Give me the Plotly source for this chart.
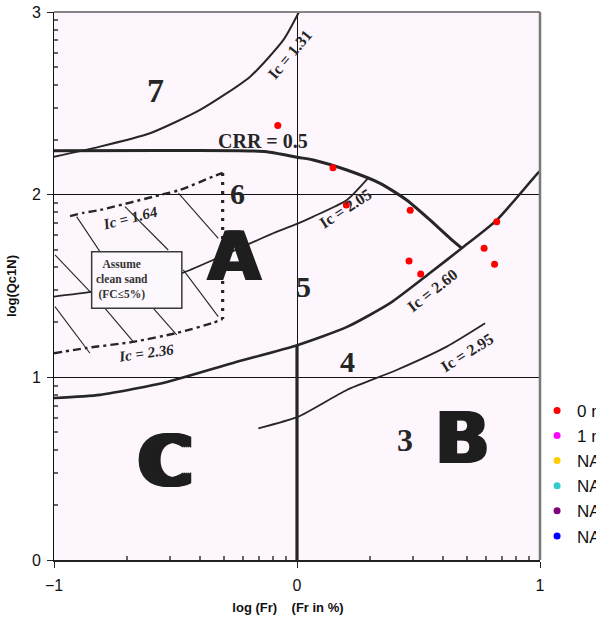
import numpy as np
import plotly.graph_objects as go

# ---------------- data ----------------
series_names = ["0 m", "1 m", "NA", "NA", "NA", "NA"]
series_colors = ["#ff0000", "#ff00ff", "#ffcc00", "#33cccc", "#800080", "#0000ff"]

pts_x = [-0.079, 0.148, 0.203, 0.466, 0.822, 0.770, 0.813, 0.461, 0.509]
pts_y = [2.378, 2.148, 1.944, 1.915, 1.852, 1.707, 1.619, 1.637, 1.566]

x_ticks = [-1, 0, 1]
y_ticks = [0, 1, 2, 3]

# background chart boundaries (Robertson / CRR chart)
ic131_x = [-1, -0.811, -0.605, -0.399, -0.193, -0.056, 0.008]
ic131_y = [2.208, 2.263, 2.336, 2.464, 2.646, 2.847, 3.0]

crr_x = [-1, -0.564, -0.235, -0.125, 0.005, 0.067, 0.205, 0.342, 0.451, 0.547, 0.630, 0.678]
crr_y = [2.241, 2.242, 2.241, 2.235, 2.204, 2.190, 2.135, 2.062, 1.971, 1.862, 1.761, 1.707]

ic205_x = [-1, -0.845, -0.474, -0.330, -0.098, 0.005, 0.067, 0.205, 0.295]
ic205_y = [1.442, 1.469, 1.571, 1.652, 1.789, 1.843, 1.880, 1.971, 2.095]

ic260_x = [-1, -0.811, -0.535, -0.263, 0.004, 0.206, 0.383, 0.547, 0.679, 0.823, 0.992, 1.0]
ic260_y = [0.887, 0.904, 0.975, 1.079, 1.177, 1.276, 1.406, 1.571, 1.708, 1.862, 2.119, 2.128]

ic295_x = [-0.159, 0.005, 0.205, 0.410, 0.616, 0.774]
ic295_y = [0.721, 0.785, 0.931, 1.040, 1.168, 1.296]

div_x = [0.0, 0.0]
div_y = [0.0, 1.177]

ic164_x = [-0.934, -0.881, -0.811, -0.564, -0.481, -0.346, -0.306]
ic164_y = [1.883, 1.900, 1.916, 1.998, 2.026, 2.099, 2.119]

ic236_x = [-1, -0.865, -0.675, -0.494, -0.346, -0.306]
ic236_y = [1.132, 1.161, 1.194, 1.243, 1.298, 1.320]

sand_x = [-0.306, -0.306]
sand_y = [2.119, 1.320]

hatch_x = [[-0.996, -0.845], [-0.996, -0.852], [-0.907, -0.811], [-0.790, -0.674],
           [-0.708, -0.530], [-0.591, -0.495], [-0.488, -0.324], [-0.468, -0.324]]
hatch_y = [[1.670, 1.460], [1.387, 1.132], [1.880, 1.688], [1.378, 1.195],
           [1.934, 1.697], [1.378, 1.232], [2.008, 1.761], [1.588, 1.332]]

box_x = [-0.845, -0.474]
box_y = [1.378, 1.688]

INK = "#262626"
HEAVY_INK = "#1e1e1e"

fig = go.Figure()

def line(x, y, w, dash="solid", color=INK):
    fig.add_trace(go.Scatter(x=x, y=y, mode="lines", showlegend=False, hoverinfo="skip",
                             line=dict(color=color, width=w, dash=dash, shape="spline", smoothing=0.6)))

line(ic131_x, ic131_y, 2)
line(crr_x, crr_y, 3)
line(ic205_x, ic205_y, 1.8)
line(ic260_x, ic260_y, 2.6)
line(ic295_x, ic295_y, 1.8)
line(div_x, div_y, 3.2)
line(ic164_x, ic164_y, 2.4, dash="8px,4px,3px,4px")
line(ic236_x, ic236_y, 2.4, dash="8px,4px,3px,4px")
line(sand_x, sand_y, 3.2, dash="3px,6px")
for hx, hy in zip(hatch_x, hatch_y):
    line(hx, hy, 1.1)

# data series
for i, (nm, col) in enumerate(zip(series_names, series_colors)):
    xs = pts_x if i == 0 else [None]
    ys = pts_y if i == 0 else [None]
    fig.add_trace(go.Scatter(x=xs, y=ys, mode="markers", name=nm,
                             marker=dict(color=col, size=7, line=dict(width=0))))

# clean sand box
fig.add_shape(type="rect", xref="x", yref="y", x0=box_x[0], x1=box_x[1], y0=box_y[0], y1=box_y[1],
              line=dict(color="#3a3a3a", width=1.5), fillcolor="#fdf8fd", layer="above")

serif = "Liberation Serif"
heavy = "DejaVu Sans"

def label(x, y, text, size, family=serif, angle=0, weight="bold", color=INK, xanchor="center"):
    fig.add_annotation(x=x, y=y, xref="x", yref="y", text=text, showarrow=False, textangle=angle,
                       xanchor=xanchor, yanchor="middle",
                       font=dict(family=family, size=size, color=color, weight=weight))

def big(x, y, text, size, widen):
    shadow = ", ".join(f"{k}px 0px 0px {HEAVY_INK}" for k in range(2, widen + 1, 2))
    fig.add_annotation(x=x, y=y, xref="x", yref="y", text=text, showarrow=False,
                       xanchor="center", yanchor="middle", xshift=-widen / 2,
                       font=dict(family=heavy, size=size, color=HEAVY_INK, weight="bold", shadow=shadow))

label(-0.584, 2.573, "7", 34)
label(-0.029, 2.765, "Ic = 1.31", 16, angle=-50)
label(-0.140, 2.294, "CRR = 0.5", 20)
label(-0.243, 2.009, "6", 30)
label(-0.687, 1.872, "<i>Ic = 1.64</i>", 15, angle=-14)
big(-0.258, 1.660, "A", 68, 4)
label(0.025, 1.495, "5", 30)
label(0.198, 1.927, "Ic = 2.05", 16, angle=-33)
label(0.556, 1.478, "Ic = 2.60", 16, angle=-38)
label(0.206, 1.084, "4", 30)
label(0.700, 1.134, "Ic = 2.95", 16, angle=-32)
label(0.444, 0.657, "3", 32)
big(0.679, 0.668, "B", 72, 4)
big(-0.543, 0.542, "C", 72, 8)
label(-0.836, 1.533, "Assume<br>clean sand<br>(FC≤5%)", 11.5, xanchor="left", color="#333")
label(-0.621, 1.134, "<i>Ic = 2.36</i>", 15, angle=-8)

minor_x = [d + np.log10(k) for d in (-1, 0) for k in range(2, 10)]
minor_y = [d + np.log10(k) for d in (0, 1, 2) for k in range(2, 10)]

fig.update_xaxes(range=[-1, 1], tickvals=x_ticks, ticks="outside", ticklen=6, tickcolor="#222",
                 showline=True, linecolor="#222", linewidth=2, showgrid=True, gridcolor="#111", gridwidth=1,
                 zeroline=False, tickfont=dict(family="Liberation Sans", size=16, color="#111"),
                 ticklabelstandoff=4,
                 minor=dict(tickmode="array", tickvals=minor_x, ticks="inside", ticklen=4,
                            tickcolor="#666", tickwidth=2, showgrid=False),
                 title=dict(text="<b>log (Fr)\u00a0\u00a0\u00a0\u00a0(Fr in %)\u00a0\u00a0\u00a0\u00a0\u00a0</b>",
                            font=dict(family="Liberation Sans", size=13, color="#111"), standoff=10))
fig.update_yaxes(range=[0, 3], tickvals=y_ticks, ticks="outside", ticklen=6, tickcolor="#222",
                 showline=True, linecolor="#111", linewidth=1, showgrid=True, gridcolor="#111", gridwidth=1,
                 zeroline=False, tickfont=dict(family="Liberation Sans", size=16, color="#111"),
                 ticklabelstandoff=3,
                 minor=dict(tickmode="array", tickvals=minor_y, ticks="inside", ticklen=4,
                            tickcolor="#666", tickwidth=2, showgrid=False),
                 title=dict(text="<b>log(Qc1N)</b>", font=dict(family="Liberation Sans", size=13, color="#111"),
                            standoff=12))

# top and right frame
fig.add_shape(type="line", xref="paper", yref="paper", x0=0, x1=1, y0=1, y1=1,
              line=dict(color="#858585", width=2), layer="above")
fig.add_shape(type="line", xref="paper", yref="paper", x0=1, x1=1, y0=0, y1=1,
              line=dict(color="#7a7a7a", width=2.5), layer="above")

fig.update_layout(
    width=596, height=621, autosize=False,
    margin=dict(l=54, r=56, t=12, b=61, autoexpand=False),
    paper_bgcolor="white", plot_bgcolor="#fdf6fd",
    showlegend=True,
    legend=dict(x=0.994, xanchor="left", y=0.305, yanchor="top", bgcolor="rgba(0,0,0,0)",
                font=dict(family="Liberation Sans", size=17, color="#111"),
                itemwidth=30, tracegroupgap=0),
)

fig.write_html("out.html")
